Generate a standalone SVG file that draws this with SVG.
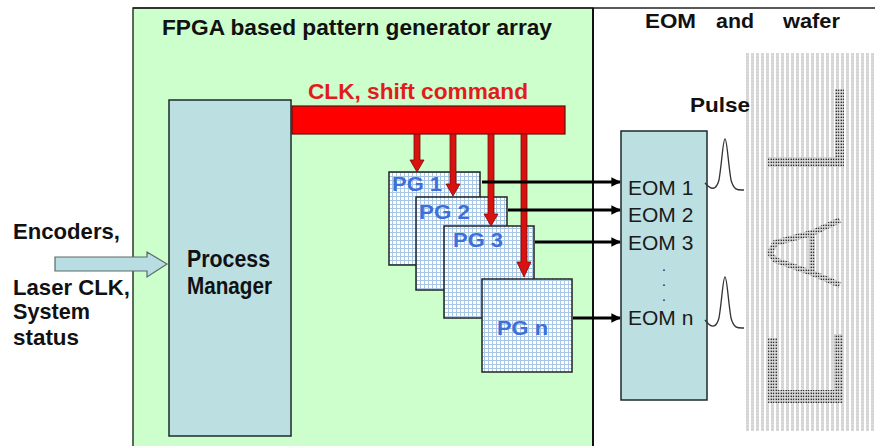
<svg xmlns="http://www.w3.org/2000/svg" width="875" height="446" viewBox="0 0 875 446">
  <style>
    .bold { font-family: "Liberation Sans", Arial, sans-serif; font-weight: bold; }
    .reg { font-family: "Liberation Sans", Arial, sans-serif; }
    .title { font-size: 22px; fill: #111; }
    .pg { fill: url(#grid); stroke: #222; stroke-width: 1.5; }
    .pglabel { font-size: 21px; fill: #3f6fd8; }
    .eom { font-size: 21px; fill: #1a1a1a; }
    .wire { stroke: #000; stroke-width: 3; fill: none; marker-end: url(#ah); }
    .redarrow { fill: #d8120f; stroke: #7a0a08; stroke-width: 0.8; }
    .pulse { fill: none; stroke: #333; stroke-width: 1.3; }
  </style>
  <defs>
    <pattern id="grid" width="4" height="4" patternUnits="userSpaceOnUse">
      <rect width="4" height="4" fill="#ffffff"/>
      <path d="M0,0.5 H4 M0.5,0 V4" stroke="#a9c6e4" stroke-width="1" fill="none"/>
    </pattern>
    <pattern id="lightdots" width="5" height="3" patternUnits="userSpaceOnUse" x="745" y="53">
      <rect width="5" height="3" fill="#ffffff"/>
      <rect x="1" y="0" width="3" height="3" fill="#e4e4e4"/>
      <rect x="1" y="0.3" width="3" height="2.2" fill="#d2d2d2"/>
    </pattern>
    <pattern id="darkdots" width="5" height="3" patternUnits="userSpaceOnUse" x="745" y="53">
      <rect width="5" height="3" fill="#dedede"/>
      <rect x="0.6" y="0.6" width="1.4" height="1.5" fill="#333"/>
      <rect x="2.8" y="0.6" width="1.4" height="1.5" fill="#333"/>
    </pattern>
    <marker id="ah" viewBox="0 0 10 10" refX="9" refY="5" markerWidth="3.2" markerHeight="3.2" orient="auto" markerUnits="strokeWidth">
      <path d="M0,0 L10,5 L0,10 Z" fill="#000"/>
    </marker>
  </defs>

  <rect width="875" height="446" fill="#ffffff"/>

  <!-- FPGA array panel and outer frame -->
  <g id="fpga-panel">
    <rect x="133" y="8" width="460" height="450" fill="#ccffcc" stroke="#2a3a2a" stroke-width="1.5"/>
    <line x1="133" y1="8" x2="875" y2="8" stroke="#222" stroke-width="1.5"/>
    <line x1="593" y1="8" x2="593" y2="446" stroke="#111" stroke-width="2"/>
    <text class="bold title" x="162" y="35" textLength="390" lengthAdjust="spacingAndGlyphs">FPGA based pattern generator array</text>
  </g>

  <text class="bold" font-size="21" fill="#111" y="28"><tspan x="645" textLength="51" lengthAdjust="spacingAndGlyphs">EOM</tspan><tspan x="716" textLength="38" lengthAdjust="spacingAndGlyphs">and</tspan><tspan x="783" textLength="57" lengthAdjust="spacingAndGlyphs">wafer</tspan></text>

  <!-- Inputs -->
  <g id="inputs">
    <text class="bold title" x="13" y="239" textLength="107" lengthAdjust="spacingAndGlyphs">Encoders,</text>
    <text class="bold title" x="13" y="295" textLength="117" lengthAdjust="spacingAndGlyphs">Laser CLK,</text>
    <text class="bold title" x="13" y="319" textLength="77" lengthAdjust="spacingAndGlyphs">System</text>
    <text class="bold title" x="13" y="345" textLength="66" lengthAdjust="spacingAndGlyphs">status</text>
  </g>

  <!-- Process manager -->
  <g id="process-manager">
    <rect x="169" y="100" width="122" height="336" fill="#bcdfe2" stroke="#1e2a2a" stroke-width="1.5"/>
    <text class="bold" font-size="23" fill="#111" x="187" y="267" textLength="83" lengthAdjust="spacingAndGlyphs">Process</text>
    <text class="bold" font-size="23" fill="#111" x="187" y="294" textLength="85" lengthAdjust="spacingAndGlyphs">Manager</text>
  </g>

  <!-- Clock / shift command bus -->
  <g id="clk-bus">
    <rect x="292" y="106" width="273" height="28" fill="#ff0000" stroke="#5a1010" stroke-width="1.2"/>
    <text class="bold" x="308" y="99" font-size="22" fill="#e21c1c" textLength="220" lengthAdjust="spacingAndGlyphs">CLK, shift command</text>
  </g>

  <!-- Pattern generators -->
  <g id="pg1">
    <rect class="pg" x="389" y="172" width="91" height="93"/>
    <text class="bold pglabel" x="392" y="191" textLength="50" lengthAdjust="spacingAndGlyphs">PG 1</text>
  </g>
  <g id="pg2">
    <rect class="pg" x="416" y="197" width="91" height="93"/>
    <text class="bold pglabel" x="419" y="219" textLength="51" lengthAdjust="spacingAndGlyphs">PG 2</text>
  </g>
  <g id="pg3">
    <rect class="pg" x="444" y="226" width="90" height="92"/>
    <text class="bold pglabel" x="453" y="247" textLength="50" lengthAdjust="spacingAndGlyphs">PG 3</text>
  </g>
  <g id="pgn">
    <rect class="pg" x="482" y="279" width="90" height="93"/>
    <text class="bold pglabel" x="497" y="335" textLength="51" lengthAdjust="spacingAndGlyphs">PG n</text>
  </g>

  <!-- EOM block -->
  <g id="eom">
    <rect x="621" y="131" width="86" height="269" fill="#bcdfe2" stroke="#1e2a2a" stroke-width="1.5"/>
    <text class="reg eom" x="628" y="195">EOM 1</text>
    <text class="reg eom" x="628" y="222">EOM 2</text>
    <text class="reg eom" x="628" y="250">EOM 3</text>
    <text class="reg" font-size="14" fill="#1a1a1a" x="662" y="271">.<tspan x="662" dy="15">.</tspan><tspan x="662" dy="15">.</tspan></text>
    <text class="reg eom" x="628" y="325">EOM n</text>
  </g>

  <!-- Wafer with written pattern -->
  <g id="wafer">
    <rect x="745" y="53" width="130" height="378" fill="url(#lightdots)"/>
    <rect x="835" y="89" width="9" height="78" fill="url(#darkdots)"/>
    <rect x="768" y="157" width="76" height="10" fill="url(#darkdots)"/>
    <path d="M840,220 L812,233 L775,243 L770,253 L775,260 L812,273 L840,285 M812,233 L812,273" fill="none" stroke="url(#darkdots)" stroke-width="6" stroke-linejoin="round"/>
    <rect x="768" y="338" width="9" height="65" fill="url(#darkdots)"/>
    <rect x="834" y="334" width="9" height="69" fill="url(#darkdots)"/>
    <rect x="768" y="390" width="75" height="13" fill="url(#darkdots)"/>
  </g>

  <text class="bold" font-size="21" fill="#111" x="690" y="112" textLength="60" lengthAdjust="spacingAndGlyphs">Pulse</text>

  <!-- Connectors -->
  <g id="connectors">
    <path d="M55,257 H147 V252 L167,264 L147,277 V271 H55 Z" fill="#b8dde2" stroke="#5a6a6a" stroke-width="1.2"/>
    <polygon class="redarrow" points="414,134 420,134 420,160 424,160 417,172 410,160 414,160"/>
    <polygon class="redarrow" points="450,134 456,134 456,184 460,184 453,196 446,184 450,184"/>
    <polygon class="redarrow" points="488,134 494,134 494,214 498,214 491,226 484,214 488,214"/>
    <polygon class="redarrow" points="521,134 527,134 527,262 531,262 524,277 517,262 521,262"/>
    <line class="wire" x1="482" y1="182" x2="620" y2="182"/>
    <line class="wire" x1="508" y1="210" x2="620" y2="210"/>
    <line class="wire" x1="535" y1="242" x2="620" y2="242"/>
    <line class="wire" x1="573" y1="318" x2="620" y2="318"/>
    <path class="pulse" d="M705,183 C711,190 716,191 719,180 C722,162 723,139 725,139 C727,139 728,162 731,180 C734,191 738,190 744,190"/>
    <path class="pulse" d="M705,320 C711,328 716,329 719,318 C722,300 723,277 725,277 C727,277 728,300 731,318 C734,329 738,328 744,328"/>
  </g>
</svg>
